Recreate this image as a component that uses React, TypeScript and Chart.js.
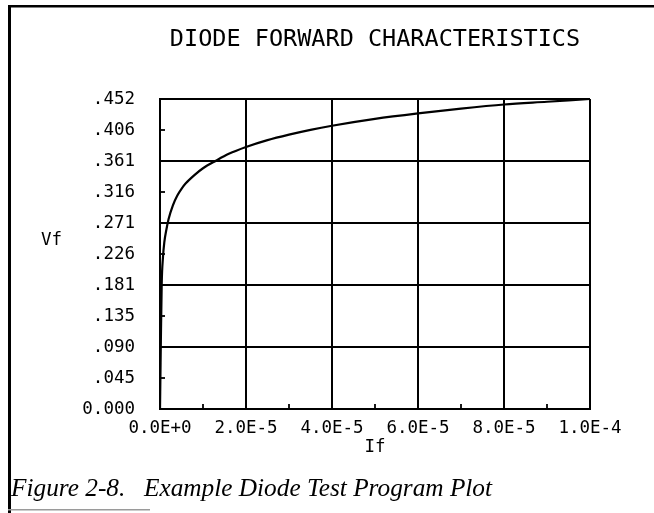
import { useEffect, useRef } from 'react';
import { Chart, registerables } from 'chart.js';

Chart.register(...registerables);

// ---- text ----
const chartTitle = 'DIODE FORWARD CHARACTERISTICS';
const xAxisTitle = 'If';
const yAxisTitle = 'Vf';
const captionNumber = 'Figure 2-8.';
const captionText = 'Example Diode Test Program Plot';

// ---- data (forward current If in A, forward voltage Vf in V) ----
const ifValues = [
  0, 1e-7, 2e-7, 4e-7, 7e-7, 1e-6, 1.5e-6, 2e-6, 3e-6, 4e-6, 5e-6, 6e-6, 8e-6,
  1e-5, 1.3e-5, 1.6e-5, 2e-5, 2.5e-5, 3e-5, 3.5e-5, 4e-5, 5e-5, 6e-5, 7e-5,
  8e-5, 9e-5, 1e-4,
];
const vfValues = [
  0, 0.05, 0.1, 0.183, 0.222, 0.243, 0.262, 0.277, 0.297, 0.311, 0.321, 0.329,
  0.341, 0.351, 0.362, 0.372, 0.382, 0.392, 0.4, 0.407, 0.413, 0.423, 0.431,
  0.438, 0.444, 0.448, 0.452,
];

// ---- ticks ----
const xTickValues = [0, 2e-5, 4e-5, 6e-5, 8e-5, 1e-4];
const xTickLabels = ['0.0E+0', '2.0E-5', '4.0E-5', '6.0E-5', '8.0E-5', '1.0E-4'];
const xMinorTicks = [1e-5, 3e-5, 5e-5, 7e-5, 9e-5];

const yTickValues = [0, 0.0452, 0.0904, 0.1356, 0.1808, 0.226, 0.2712, 0.3164, 0.3616, 0.4068, 0.452];
const yTickLabels = ['0.000', '.045', '.090', '.135', '.181', '.226', '.271', '.316', '.361', '.406', '.452'];
const yMinorTicks = [0.0452, 0.1356, 0.226, 0.3164, 0.4068];

const MONO = "'DejaVu Sans Mono', monospace";
const SERIF = "'Liberation Serif', serif";

const decorPlugin = {
  id: 'decor',
  afterDraw(chart: any) {
    const { ctx, chartArea, scales } = chart;
    ctx.save();
    ctx.strokeStyle = '#000';
    ctx.lineWidth = 1.8;
    xMinorTicks.forEach((v) => {
      const px = scales.x.getPixelForValue(v);
      ctx.beginPath();
      ctx.moveTo(px, chartArea.bottom);
      ctx.lineTo(px, chartArea.bottom - 5);
      ctx.stroke();
    });
    yMinorTicks.forEach((v) => {
      const py = scales.y.getPixelForValue(v);
      ctx.beginPath();
      ctx.moveTo(chartArea.left, py);
      ctx.lineTo(chartArea.left + 5, py);
      ctx.stroke();
    });

    ctx.fillStyle = '#000';
    ctx.font = `17.5px ${MONO}`;
    ctx.textAlign = 'left';
    ctx.textBaseline = 'middle';
    ctx.fillText(yAxisTitle, 41, 240);

    ctx.font = `italic 25.3px ${SERIF}`;
    ctx.textBaseline = 'alphabetic';
    ctx.fillText(captionNumber, 11, 496);
    ctx.fillText(captionText, 144, 496);

    ctx.fillRect(8, 5, 3, 508);
    ctx.fillRect(8, 5, 646, 2.5);
    ctx.fillStyle = '#9a9a9a';
    ctx.fillRect(8, 509, 142, 1.5);
    ctx.restore();
  },
};

export default function App() {
  const canvasRef = useRef<HTMLCanvasElement | null>(null);

  useEffect(() => {
    const canvas = canvasRef.current;
    if (!canvas) return;
    const points = ifValues.map((x, i) => ({ x, y: vfValues[i] }));
    const chart = new Chart(canvas, {
      type: 'scatter',
      data: {
        datasets: [
          {
            data: points,
            showLine: true,
            borderColor: '#000',
            borderWidth: 2.2,
            pointRadius: 0,
            cubicInterpolationMode: 'monotone',
          },
        ],
      },
      options: {
        responsive: false,
        animation: false,
        layout: { padding: { left: 0, right: 64, top: 0, bottom: 0 } },
        plugins: {
          legend: { display: false },
          tooltip: { enabled: false },
          title: {
            display: true,
            text: chartTitle,
            fullSize: false,
            color: '#000',
            font: { family: MONO, size: 23.5, weight: 'normal' },
            padding: { top: 26, bottom: 44.8 },
          },
        },
        scales: {
          x: {
            type: 'linear',
            min: 0,
            max: 1e-4,
            afterBuildTicks: (scale: any) => {
              scale.ticks = xTickValues.map((value) => ({ value }));
            },
            afterFit: (scale: any) => {
              scale.height = 104;
            },
            grid: { color: '#000', lineWidth: 2, drawTicks: false },
            border: { color: '#000', width: 2 },
            ticks: {
              color: '#000',
              padding: 9,
              maxRotation: 0,
              autoSkip: false,
              font: { family: MONO, size: 17.5 },
              callback: (_v: any, i: number) => xTickLabels[i],
            },
            title: {
              display: true,
              text: xAxisTitle,
              color: '#000',
              font: { family: MONO, size: 17.5 },
              padding: { top: 0, bottom: 55 },
            },
          },
          y: {
            type: 'linear',
            min: 0,
            max: 0.452,
            afterBuildTicks: (scale: any) => {
              scale.ticks = yTickValues.map((value) => ({ value }));
            },
            afterFit: (scale: any) => {
              scale.width = 160;
            },
            grid: {
              color: (c: any) => (c.index % 2 === 0 ? '#000' : 'rgba(0,0,0,0)'),
              lineWidth: 2,
              drawTicks: false,
            },
            border: { color: '#000', width: 2 },
            ticks: {
              color: '#000',
              padding: 25,
              autoSkip: false,
              font: { family: MONO, size: 17.5 },
              callback: (_v: any, i: number) => yTickLabels[i],
            },
          },
        },
      },
      plugins: [decorPlugin],
    });
    return () => chart.destroy();
  }, []);

  return (
    <div style={{ position: 'absolute', left: 0, top: 0, width: 654, height: 513, background: '#fff' }}>
      <canvas ref={canvasRef} width={654} height={513} style={{ width: 654, height: 513, display: 'block' }} />
    </div>
  );
}
